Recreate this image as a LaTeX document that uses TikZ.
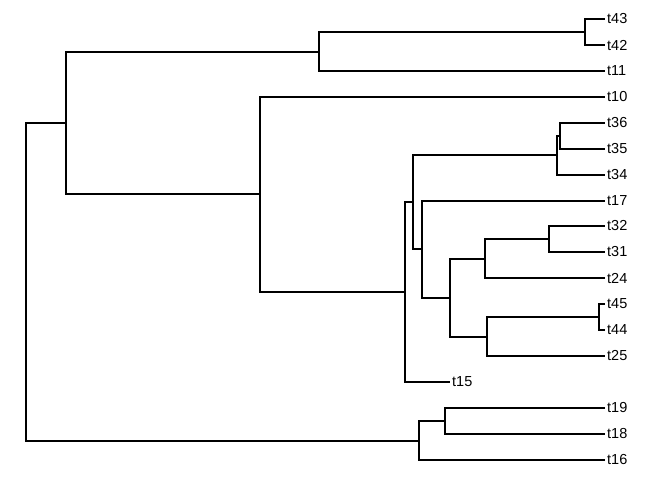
\documentclass[tikz,border=0pt]{standalone}
\usepackage{fontspec}
\setmainfont{Liberation Sans}
\begin{document}
\begin{tikzpicture}[x=1pt,y=-1pt,
  edge/.style={line width=2pt, line cap=rect},
  tiplabel/.style={anchor=west, inner sep=0pt, font=\fontsize{14.5}{16}\selectfont}]
\useasboundingbox (0,0) rectangle (672,480);
% internal nodes
\coordinate (root) at (26,282);
\coordinate (nA) at (66,123);
\coordinate (nB) at (319,52);
\coordinate (nP) at (585,32);
\coordinate (nC) at (260,194);
\coordinate (nD) at (405,292);
\coordinate (nE) at (413,202);
\coordinate (nL) at (557,155);
\coordinate (nM) at (560,136);
\coordinate (nF) at (422,249);
\coordinate (nG) at (450,298);
\coordinate (nH) at (485,259);
\coordinate (nJ) at (549,239);
\coordinate (nI) at (487,337);
\coordinate (nK) at (599,317);
\coordinate (nN) at (419,441);
\coordinate (nO) at (445,421);
% tips
\coordinate (t43) at (604,19);
\coordinate (t42) at (604,45);
\coordinate (t11) at (604,71);
\coordinate (t10) at (604,97);
\coordinate (t36) at (604,123);
\coordinate (t35) at (604,149);
\coordinate (t34) at (604,175);
\coordinate (t17) at (604,201);
\coordinate (t32) at (604,226);
\coordinate (t31) at (604,252);
\coordinate (t24) at (604,278);
\coordinate (t45) at (604,304);
\coordinate (t44) at (604,330);
\coordinate (t25) at (604,356);
\coordinate (t15) at (449,382);
\coordinate (t19) at (604,408);
\coordinate (t18) at (604,434);
\coordinate (t16) at (604,460);
% edges
\foreach \p/\c in {root/nA, root/nN, nA/nB, nA/nC, nB/nP, nB/t11, nP/t43, nP/t42,
  nC/t10, nC/nD, nD/nE, nD/t15, nE/nL, nE/nF, nL/nM, nL/t34, nM/t36, nM/t35,
  nF/t17, nF/nG, nG/nH, nG/nI, nH/nJ, nH/t24, nJ/t32, nJ/t31, nI/nK, nI/t25,
  nK/t45, nK/t44, nN/nO, nN/t16, nO/t19, nO/t18}
  \draw[edge] (\p) |- (\c);
% labels
\foreach \t in {t43,t42,t11,t10,t36,t35,t34,t17,t32,t31,t24,t45,t44,t25,t15,t19,t18,t16}
  \node[tiplabel] (l\t) at ([xshift=3pt]\t) {\t};
\end{tikzpicture}
\end{document}
